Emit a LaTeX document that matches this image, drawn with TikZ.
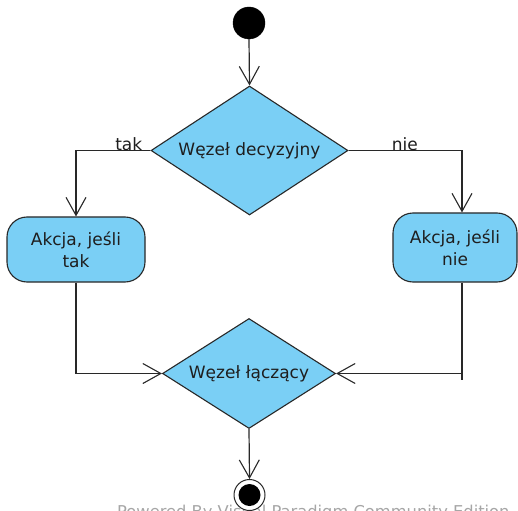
\documentclass[tikz,border=0pt]{standalone}
\usepackage{fontspec}
\setmainfont{DejaVu Sans}
\usetikzlibrary{shapes.geometric,arrows.meta}
\definecolor{vpblue}{RGB}{122,207,245}
\definecolor{vpline}{RGB}{40,40,40}
\definecolor{vptext}{RGB}{30,30,30}
\tikzset{
  every node/.style={text=vptext},
  conn/.style={draw=vpline, line width=1.2pt, -{Straight Barb[length=18pt,width=20pt,line width=1.1pt]}},
  plain/.style={draw=vpline, line width=1.2pt},
  txt/.style={font=\fontsize{17}{22}\selectfont},
  decision/.style={diamond, draw=vpline, line width=1.1pt, fill=vpblue, aspect=1.5, inner sep=1pt, txt},
  abox/.style={rectangle, rounded corners=20pt, draw=vpline, line width=1.1pt, fill=vpblue, align=center, txt, inner sep=0pt},
  lbl/.style={txt, inner sep=0pt}
}
\begin{document}
\begin{tikzpicture}[x=1pt,y=-1pt]
\useasboundingbox (0,0) rectangle (518,510);
\fill[white] (0,0) rectangle (518,510);
% watermark (cut off at the lower edge, as in the reference)
\begin{scope}
\clip (0,0) rectangle (518,510);
\node[anchor=base west, inner sep=0pt, text=black!35, font=\fontsize{16.3}{19}\selectfont] (wm) at (117,517) {Powered By Visual Paradigm Community Edition};
\end{scope}
% start
\node[circle, fill=black, draw=black, minimum size=32pt, inner sep=0pt] (start) at (249,23) {};
% decision
\node[decision, minimum width=197pt, minimum height=129pt] (dec) at (249.5,150.5) {Węzeł decyzyjny};
% actions
\node[abox, minimum width=138pt, minimum height=65pt] (a1) at (76,249.5) {Akcja, jeśli\\tak};
\node[abox, minimum width=124pt, minimum height=69pt] (a2) at (455,247.5) {Akcja, jeśli\\nie};
\coordinate (a2in) at ([xshift=7pt]a2.north);
\coordinate (a2out) at ([xshift=7pt]a2.south);
% merge
\node[decision, minimum width=173pt, minimum height=110pt] (merge) at (249,373.5) {Węzeł łączący};
% final
\node[circle, draw=vpline, line width=1pt, fill=white, minimum size=31pt, inner sep=0pt] (end) at (249.5,495) {};
\node[circle, fill=black, minimum size=22pt, inner sep=0pt] (endin) at (end.center) {};
% connectors
\draw[conn] (start.south) -- (dec.north);
\draw[conn] (dec.west) -| (a1.north);
\draw[conn] (dec.east) -| (a2in);
\draw[conn] (a1.south) |- (merge.west);
\draw[conn] (a2out) |- (merge.east);
\draw[plain] (a2out) ++(0,91) coordinate (tick) -- ++(0,6);
\draw[conn] (merge.south) -- (end.north);
% labels
\node[lbl, anchor=base east] (ltak) at ([xshift=-8pt]dec.west) {tak};
\node[lbl, anchor=base west] (lnie) at ([xshift=43pt]dec.east) {nie};
\end{tikzpicture}
\end{document}
